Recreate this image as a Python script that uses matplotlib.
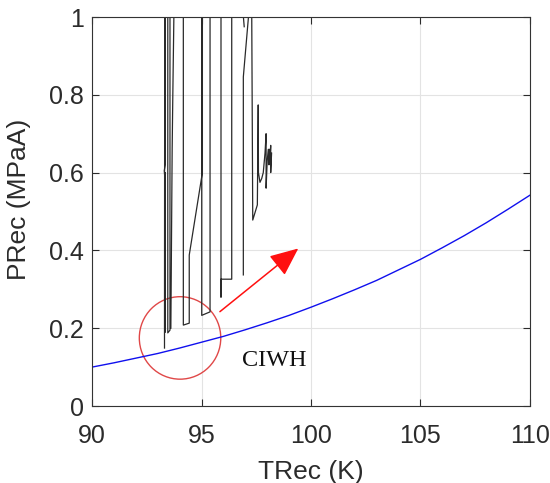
import numpy as np
import matplotlib
matplotlib.use("Agg")
import matplotlib.pyplot as plt
from matplotlib.patches import Ellipse

# equilibrium curve
t_eq = [90, 91, 92, 93, 94, 95, 96, 97, 98, 99, 100,
        101, 102, 103, 104, 105, 106, 107, 108, 109, 110]
p_eq = [0.100, 0.111, 0.123, 0.135, 0.149, 0.164, 0.179, 0.196, 0.214, 0.233, 0.254,
        0.276, 0.299, 0.323, 0.350, 0.377, 0.407, 0.438, 0.471, 0.506, 0.542]

# receiver trajectory, nan = gap between pieces
t_rec = [93.31, 93.31, 93.32, np.nan,
         93.34, 93.34, 93.30, 93.32, 93.34, 93.35, np.nan,
         93.46, 93.46, 93.56, 93.56, np.nan,
         93.75, 93.69, 93.66, 93.60, np.nan,
         94.17, 94.17, 94.44, 94.44, 95.04, 95.04, np.nan,
         95.01, 95.01, 95.39, 95.39, np.nan,
         95.89, 95.89, 95.89, 96.38, 96.38, np.nan,
         96.84, 96.95, np.nan,
         97.22, 96.91, 96.91, np.nan,
         97.29, 97.34, 97.55, 97.59, 97.60, 97.67, 97.75, 97.82, 97.90, 97.95,
         97.95, 98.00, 98.05, 98.08, 98.10, 98.13, 98.16, 98.16, 98.20]
p_rec = [0.149, 0.183, 1.05, np.nan,
         1.05, 0.62, 0.605, 0.59, 0.60, 0.19, np.nan,
         1.05, 0.188, 0.195, 1.05, np.nan,
         1.05, 0.80, 0.66, 0.20, np.nan,
         1.05, 0.208, 0.213, 0.388, 0.60, 1.05, np.nan,
         1.05, 0.233, 0.242, 1.05, np.nan,
         1.05, 0.280, 0.326, 0.326, 1.05, np.nan,
         1.05, 0.975, np.nan,
         1.05, 0.846, 0.337, np.nan,
         1.05, 0.478, 0.517, 0.774, 0.60, 0.575, 0.585, 0.60, 0.65, 0.70,
         0.56, 0.63, 0.66, 0.62, 0.66, 0.64, 0.67, 0.60, 0.65]

x_ticks = [90, 95, 100, 105, 110]
y_ticks = [0, 0.2, 0.4, 0.6, 0.8, 1]
y_tick_labels = ["0", "0.2", "0.4", "0.6", "0.8", "1"]

plt.rcParams['font.family'] = ['Liberation Sans', 'DejaVu Sans']
fig = plt.figure(figsize=(5.5, 4.83), dpi=100)
ax = fig.add_axes([0.1673, 0.1594, 0.7963, 0.8054])

ax.plot(t_rec, p_rec, color='#2a2a2a', lw=0.9)
ax.plot(t_eq, p_eq, color='#1010ee', lw=1.0)

# highlight circle and arrow
ax.add_patch(Ellipse((94.02, 0.175), 3.72, 0.212, fill=False,
                     edgecolor='#e04848', lw=1.0))
ax.annotate('', xy=(99.42, 0.405), xytext=(95.84, 0.2425),
            arrowprops=dict(arrowstyle='-|>,head_length=0.8,head_width=0.35',
                            color='#ff1010', lw=1.1, mutation_scale=22,
                            shrinkA=0, shrinkB=0))
ax.text(98.3, 0.116, 'CIWH', family='Liberation Serif', fontsize=17.5,
        ha='center', va='center', color='#111111')

ax.set_xlim(90, 110)
ax.set_ylim(0, 1)
ax.set_xticks(x_ticks)
ax.set_yticks(y_ticks)
ax.set_yticklabels(y_tick_labels)
ax.grid(True, color='#e3e3e3', lw=0.8)
ax.set_axisbelow(True)
ax.tick_params(direction='in', length=5, top=True, right=True,
               labelsize=18, colors='#2b2b2b')
ax.tick_params(axis='x', pad=13)
ax.tick_params(axis='y', pad=6)
for s in ax.spines.values():
    s.set_color('#333333')
    s.set_linewidth(0.8)

ax.set_xlabel('TRec (K)', fontsize=19, color='#2b2b2b')
ax.set_ylabel('PRec (MPaA)', fontsize=19, color='#2b2b2b')
ax.xaxis.set_label_coords(0.5, -0.14)
ax.yaxis.set_label_coords(-0.14, 0.53)

fig.savefig('out.png', dpi=100)
